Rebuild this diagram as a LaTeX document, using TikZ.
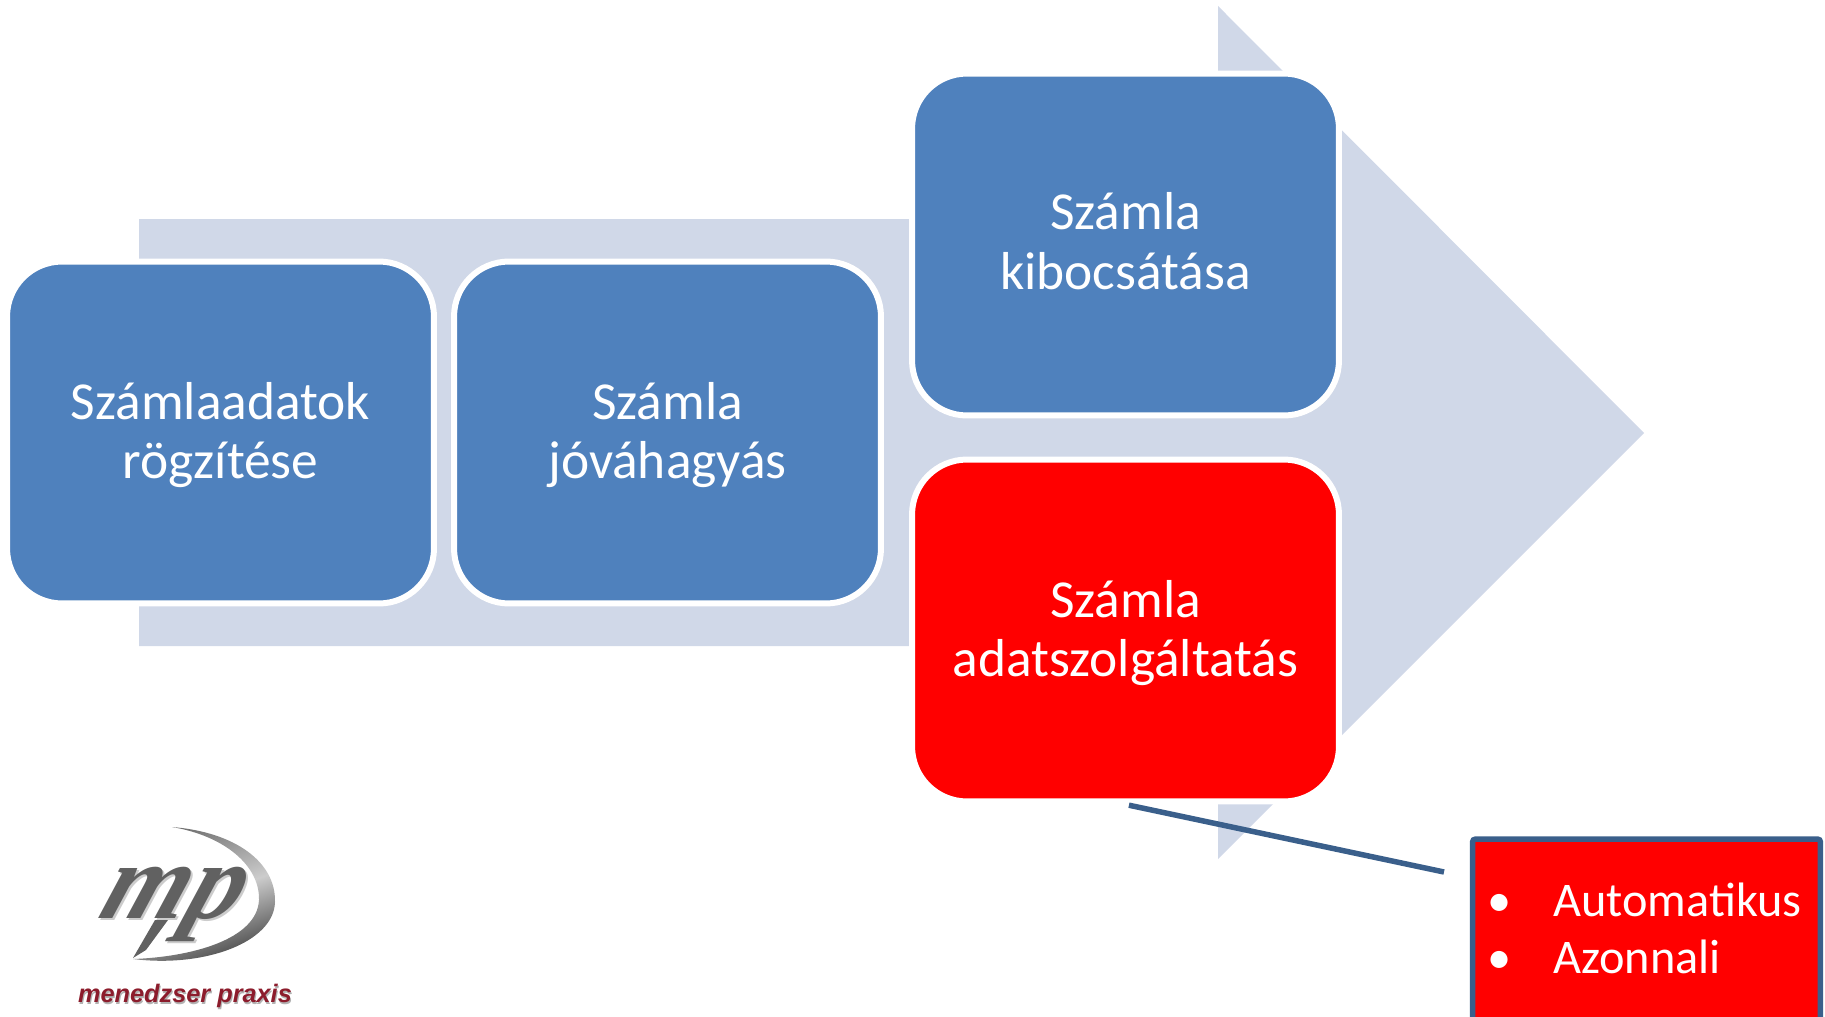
\documentclass[tikz,border=0pt]{standalone}
\usepackage{fontspec}
\setmainfont{Carlito}
\newfontfamily\logofont{Liberation Serif}
\newfontfamily\praxisfont{Liberation Sans}
\definecolor{arrowfill}{HTML}{D0D8E8}
\definecolor{boxblue}{HTML}{4F81BD}
\definecolor{linkblue}{HTML}{3A5F8B}
\definecolor{praxisred}{HTML}{8C1C2C}
\begin{document}
\begin{tikzpicture}[x=0.02cm,y=-0.02cm]
                \tikzstyle{vertex}=[rectangle,rounded corners=1.1cm,draw=white,line width=0.12cm,fill=boxblue,text=white,minimum width=8.54cm,minimum height=6.84cm,inner sep=0pt,align=center,font=\fontsize{30.4}{33.8}\selectfont]
                \tikzstyle{link}=[draw=linkblue,line width=0.11cm,shorten <=0.07cm]
                \tikzstyle{logotext}=[inner sep=0pt,xslant=0.36,transform shape,font=\logofont\bfseries\itshape\fontsize{62}{62}\selectfont,anchor=base]
                \tikzstyle{praxis}=[inner sep=0pt,font=\praxisfont\bfseries\itshape\fontsize{14.4}{14.4}\selectfont,anchor=base]
                \useasboundingbox (0,0) rectangle (1825,1017);
                \clip (0,0) rectangle (1825,1017);
                        % big arrow
                        \fill[arrowfill] (139,219) -- (1218,219) -- (1218,6) -- (1644,433) -- (1218,859) -- (1218,646) -- (139,646) -- cycle;

                        \node[vertex] (V-1) at (220.5,432.5){\rule{0pt}{24pt}Számlaadatok\\rögzítése};
                        \node[vertex] (V-2) at (667.5,432.5){\rule{0pt}{24pt}Számla\\jóváhagyás};
                        \node[vertex] (V-3) at (1125.5,244.5){Számla\\kibocsátása\rule[-4pt]{0pt}{4pt}};
                        \node[vertex,fill=red] (V-4) at (1125.5,630.5){\rule{0pt}{24pt}Számla\\adatszolgáltatás};

                        % side box, runs off the page
                        \node[rectangle,rounded corners=0.06cm,draw=linkblue,line width=0.11cm,fill=red,minimum width=6.96cm,minimum height=6cm,inner sep=0pt] (V-5) at (1646.5,989){};
                        \node[anchor=base west,text=white,inner sep=0pt,align=left,font=\fontsize{27.5}{32.4}\selectfont] (V-51) at (1487,973){\makebox[1.32cm][l]{•}Automatikus\\\makebox[1.32cm][l]{•}Azonnali};
                        \coordinate (V-45) at (1444,872);

                    \foreach \from/\to in {4/45}
                        \draw[link] (V-\from.south) -- (V-\to);

                        % logo
                        \node[logotext,text=black!20] (V-61) at (168,920){mp};
                        \node[logotext,text=black!62] (V-6) at (166,918){mp};
                        \fill[black!62] (155,920) -- (168,920) -- (146,950) -- (133,958) -- cycle;
                        \shade[left color=black!55,right color=black!75,middle color=white!80!black,shading angle=20] (172,827) .. controls (235,832) and (276,862) .. (275,902) .. controls (274,942) and (205,968) .. (133,959) .. controls (190,957) and (257,940) .. (259,900) .. controls (260,866) and (225,836) .. (172,827) -- cycle;
                        \node[praxis,text=black!30] (V-71) at (186,1004){menedzser praxis};
                        \node[praxis,text=praxisred] (V-7) at (185,1002){menedzser praxis};
            \end{tikzpicture}
\end{document}
